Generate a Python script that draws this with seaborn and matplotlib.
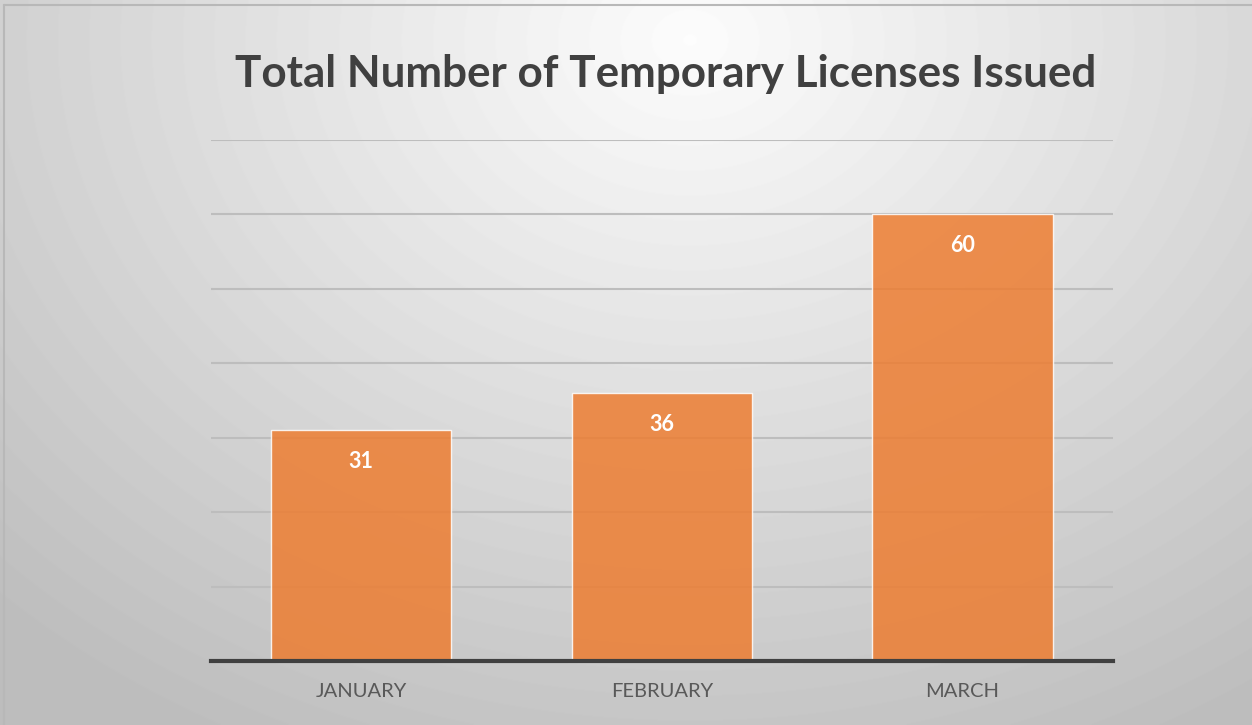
import numpy as np
import pandas as pd
import seaborn as sns
from matplotlib import pyplot as plt

# chart data
months = ["JANUARY", "FEBRUARY", "MARCH"]
licenses = [31, 36, 60]
title = "Total Number of Temporary Licenses Issued"

df = pd.DataFrame({"month": months, "licenses": licenses})

sns.set_style("white")
plt.rcParams["font.family"] = ["Lato", "DejaVu Sans"]

fig = plt.figure(figsize=(12.52, 7.25), dpi=100)

# radial gradient background, light near the top centre
bg = fig.add_axes([0, 0, 1, 1], zorder=0)
yy, xx = np.mgrid[0:725, 0:1252]
dist = np.sqrt(((xx - 690) / 1000.0) ** 2 + ((yy - 40) / 800.0) ** 2)
shade = np.clip(0.99 - 0.25 * dist, 0.74, 1.0)
bg.imshow(shade, cmap="gray", vmin=0, vmax=1, aspect="auto", extent=[0, 1, 0, 1])
bg.set_xlim(0, 1)
bg.set_ylim(0, 1)
bg.axis("off")
# thin frame at the top and left
bg.plot([0.003, 1], [0.993, 0.993], color="#b8b8b8", lw=1.5)
bg.plot([0.003, 0.003], [0, 0.993], color="#b8b8b8", lw=1.5)

ax = fig.add_axes([0.1685, 0.0883, 0.7204, 0.7186], zorder=1)
ax.patch.set_alpha(0)

sns.barplot(data=df, x="month", y="licenses", color="#ED7D31", width=0.6,
            saturation=1, alpha=0.85, edgecolor="white", linewidth=1, ax=ax, zorder=3)

ax.set_ylim(0, 70)
ax.set_xlim(-0.5, 2.5)
ax.set_yticks(range(10, 71, 10))
ax.yaxis.grid(True, color="#bdbdbd", lw=1.5)
ax.set_axisbelow(True)
ax.tick_params(axis="y", left=False, labelleft=False)
ax.tick_params(axis="x", bottom=False, labelsize=14.5, labelcolor="#595959", pad=12)
for s in ["top", "right", "left"]:
    ax.spines[s].set_visible(False)
ax.spines["bottom"].set_color("#404040")
ax.spines["bottom"].set_linewidth(3)
ax.spines["bottom"].set_zorder(5)
ax.set_xlabel("")
ax.set_ylabel("")

for cont in ax.containers:
    ax.bar_label(cont, label_type="edge", padding=-30, color="white",
                 fontsize=15.5, fontweight="bold")

fig.text(0.532, 0.898, title, ha="center", va="center", fontsize=31.7,
         fontweight="bold", color="#404040")

fig.savefig("out.png", dpi=100)
